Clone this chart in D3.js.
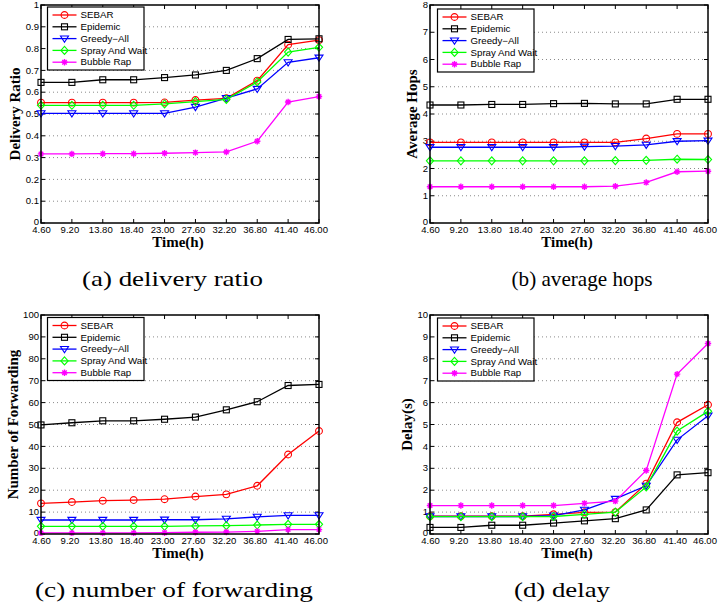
<!DOCTYPE html>
<html>
<head>
<meta charset="utf-8">
<script src="https://cdn.jsdelivr.net/npm/d3@7"></script>
<style>
  html, body { margin: 0; padding: 0; background: #fff; }
  svg { display: block; }
</style>
</head>
<body>
<svg id="fig" width="718" height="608"></svg>
<script>
// Simulation time points (hours) and their tick labels
const times = [4.6, 9.2, 13.8, 18.4, 23.0, 27.6, 32.2, 36.8, 41.4, 46.0];
const timeLabels = ["4.60", "9.20", "13.80", "18.40", "23.00", "27.60", "32.20", "36.80", "41.40", "46.00"];

// Routing protocols compared
const protocols = ["SEBAR", "Epidemic", "Greedy\u2212All", "Spray And Wait", "Bubble Rap"];
const protocolColors = ["#ff0000", "#000000", "#0000ff", "#00ff00", "#ff00ff"];
const protocolMarkers = ["circle", "square", "triangleDown", "diamond", "asterisk"];

// (a) delivery ratio
const deliverySEBAR     = [0.552, 0.552, 0.552, 0.552, 0.553, 0.564, 0.572, 0.653, 0.818, 0.839];
const deliveryEpidemic  = [0.645, 0.645, 0.657, 0.657, 0.667, 0.679, 0.700, 0.754, 0.842, 0.845];
const deliveryGreedy    = [0.503, 0.503, 0.503, 0.503, 0.503, 0.532, 0.573, 0.615, 0.737, 0.758];
const deliverySpray     = [0.540, 0.540, 0.540, 0.540, 0.546, 0.557, 0.567, 0.647, 0.784, 0.806];
const deliveryBubble    = [0.317, 0.317, 0.318, 0.318, 0.320, 0.323, 0.326, 0.375, 0.555, 0.580];
const deliveryTicks = [0, 0.1, 0.2, 0.3, 0.4, 0.5, 0.6, 0.7, 0.8, 0.9, 1];

// (b) average hops
const hopsSEBAR    = [2.96, 2.96, 2.96, 2.96, 2.96, 2.96, 2.96, 3.10, 3.27, 3.27];
const hopsEpidemic = [4.33, 4.33, 4.35, 4.35, 4.38, 4.39, 4.37, 4.37, 4.54, 4.54];
const hopsGreedy   = [2.78, 2.78, 2.78, 2.78, 2.78, 2.80, 2.82, 2.87, 3.00, 3.02];
const hopsSpray    = [2.28, 2.28, 2.28, 2.28, 2.28, 2.28, 2.29, 2.30, 2.34, 2.33];
const hopsBubble   = [1.33, 1.33, 1.33, 1.33, 1.33, 1.33, 1.35, 1.49, 1.88, 1.90];
const hopsTicks = [0, 1, 2, 3, 4, 5, 6, 7, 8];

// (c) number of forwarding
const forwardSEBAR    = [14.0, 14.6, 15.2, 15.5, 15.9, 17.1, 18.1, 22.0, 36.3, 47.0];
const forwardEpidemic = [49.8, 50.8, 51.7, 51.7, 52.4, 53.4, 56.7, 60.4, 67.8, 68.3];
const forwardGreedy   = [6.4, 6.4, 6.4, 6.4, 6.5, 6.5, 6.9, 7.8, 8.5, 8.5];
const forwardSpray    = [3.5, 3.5, 3.5, 3.5, 3.5, 3.7, 3.8, 4.1, 4.4, 4.4];
const forwardBubble   = [0.5, 0.5, 0.5, 0.5, 0.6, 0.8, 0.9, 1.2, 2.0, 2.0];
const forwardTicks = [0, 10, 20, 30, 40, 50, 60, 70, 80, 90, 100];

// (d) delay
const delaySEBAR    = [0.81, 0.81, 0.81, 0.81, 0.90, 0.99, 1.00, 2.30, 5.10, 5.90];
const delayEpidemic = [0.30, 0.30, 0.40, 0.40, 0.50, 0.60, 0.70, 1.10, 2.70, 2.80];
const delayGreedy   = [0.80, 0.80, 0.80, 0.80, 0.84, 1.10, 1.60, 2.20, 4.30, 5.40];
const delaySpray    = [0.79, 0.79, 0.79, 0.79, 0.80, 0.90, 1.00, 2.15, 4.70, 5.60];
const delayBubble   = [1.30, 1.30, 1.30, 1.30, 1.30, 1.40, 1.50, 2.90, 7.30, 8.70];
const delayTicks = [0, 1, 2, 3, 4, 5, 6, 7, 8, 9, 10];

const panels = [
  { box: { x: 41, y: 5, w: 278, h: 218 }, series: [deliverySEBAR, deliveryEpidemic, deliveryGreedy, deliverySpray, deliveryBubble],
    ticks: deliveryTicks, fmt: d => (d === 0 || d === 1) ? String(d) : d.toFixed(1),
    ylabel: "Delivery Ratio", caption: "(a) delivery ratio", cap: { cx: 172.5, w: 181 }, legend: { x: 47.5, y: 7 } },
  { box: { x: 430, y: 5, w: 278, h: 218 }, series: [hopsSEBAR, hopsEpidemic, hopsGreedy, hopsSpray, hopsBubble],
    ticks: hopsTicks, fmt: d => String(d),
    ylabel: "Average Hops", caption: "(b) average hops", cap: { cx: 582, w: 141 }, legend: { x: 437.5, y: 9 } },
  { box: { x: 41, y: 315, w: 278, h: 219 }, series: [forwardSEBAR, forwardEpidemic, forwardGreedy, forwardSpray, forwardBubble],
    ticks: forwardTicks, fmt: d => String(d),
    ylabel: "Number of Forwarding", caption: "(c) number of forwarding", cap: { cx: 174, w: 278 }, legend: { x: 47.5, y: 317.5 } },
  { box: { x: 430, y: 315, w: 278, h: 219 }, series: [delaySEBAR, delayEpidemic, delayGreedy, delaySpray, delayBubble],
    ticks: delayTicks, fmt: d => String(d),
    ylabel: "Delay(s)", caption: "(d) delay", cap: { cx: 562, w: 96 }, legend: { x: 437.5, y: 318 } }
];

const svg = d3.select("#fig");
const tickFont = "'Liberation Sans', Arial, sans-serif";
const serifFont = "'Liberation Serif', 'Times New Roman', serif";
const stretch = 1.15; // horizontal widening applied to small sans labels

// Draw a marker of the given kind centred at (0,0)
function drawMarker(g, kind, color) {
  const sw = 1.1;
  if (kind === "circle") {
    g.append("circle").attr("r", 3.4).attr("fill", "none").attr("stroke", color).attr("stroke-width", sw);
  } else if (kind === "square") {
    g.append("rect").attr("x", -3).attr("y", -3).attr("width", 6).attr("height", 6)
      .attr("fill", "none").attr("stroke", color).attr("stroke-width", sw);
  } else if (kind === "triangleDown") {
    g.append("path").attr("d", "M-4,-2.6L4,-2.6L0,3.6Z").attr("fill", "none").attr("stroke", color).attr("stroke-width", sw);
  } else if (kind === "diamond") {
    g.append("path").attr("d", "M0,-4L3.6,0L0,4L-3.6,0Z").attr("fill", "none").attr("stroke", color).attr("stroke-width", sw);
  } else if (kind === "asterisk") {
    const r = 3.2, q = r * 0.7;
    g.append("path").attr("d", `M${-r},0L${r},0M0,${-r}L0,${r}M${-q},${-q}L${q},${q}M${-q},${q}L${q},${-q}`)
      .attr("fill", "none").attr("stroke", color).attr("stroke-width", 1.4);
  }
}

panels.forEach(p => {
  const { x, y, w, h } = p.box;
  const g = svg.append("g").attr("transform", `translate(${x},${y})`);
  const xs = d3.scaleLinear().domain([times[0], times[times.length - 1]]).range([0, w]);
  const ys = d3.scaleLinear().domain([p.ticks[0], p.ticks[p.ticks.length - 1]]).range([h, 0]);

  // background
  g.append("rect").attr("width", w).attr("height", h).attr("fill", "#fff");

  // dotted horizontal grid
  g.append("g").selectAll("line").data(p.ticks.slice(1, -1)).join("line")
    .attr("x1", 0).attr("x2", w).attr("y1", d => ys(d)).attr("y2", d => ys(d))
    .attr("stroke", "#8a8a8a").attr("stroke-width", 1).attr("stroke-dasharray", "1,3");

  // inner ticks on all four sides
  const tickLen = 4;
  const tg = g.append("g").attr("stroke", "#000").attr("stroke-width", 1);
  times.forEach(t => {
    tg.append("line").attr("x1", xs(t)).attr("x2", xs(t)).attr("y1", h).attr("y2", h - tickLen);
    tg.append("line").attr("x1", xs(t)).attr("x2", xs(t)).attr("y1", 0).attr("y2", tickLen);
  });
  p.ticks.forEach(v => {
    tg.append("line").attr("x1", 0).attr("x2", tickLen).attr("y1", ys(v)).attr("y2", ys(v));
    tg.append("line").attr("x1", w).attr("x2", w - tickLen).attr("y1", ys(v)).attr("y2", ys(v));
  });

  // axes via d3 for tick labels (tick lines hidden)
  const xAxis = d3.axisBottom(xs).tickValues(times).tickFormat((d, i) => timeLabels[i]).tickSize(0).tickPadding(4.5);
  const xg = g.append("g").attr("transform", `translate(0,${h})`).call(xAxis);
  xg.select(".domain").remove();
  xg.selectAll("text").attr("font-family", tickFont).attr("font-size", 8.3).attr("fill", "#000")
    .attr("x", (d, i) => i === 0 ? 0 : (i === times.length - 1 ? -3.5 : -2.5) / stretch)
    .attr("transform", `scale(${stretch},1)`);

  const yAxis = d3.axisLeft(ys).tickValues(p.ticks).tickFormat(p.fmt).tickSize(0).tickPadding(2);
  const yg = g.append("g").call(yAxis);
  yg.select(".domain").remove();
  const yTexts = yg.selectAll("text").attr("font-family", tickFont).attr("font-size", 8.3).attr("fill", "#000")
    .attr("x", -2 / stretch).attr("dy", (d, i) => i === 0 ? "0.2em" : "0.32em")
    .attr("transform", `scale(${stretch},1)`);

  // widest y tick label decides how far out the y title sits
  let maxTickW = 0;
  yTexts.each(function () { maxTickW = Math.max(maxTickW, this.getComputedTextLength()); });
  const ylabelX = -(2 + maxTickW * stretch + 5.5);

  // series lines and markers
  const line = d3.line().x((d, i) => xs(times[i])).y(d => ys(d));
  p.series.forEach((vals, si) => {
    const color = protocolColors[si];
    g.append("path").datum(vals).attr("d", line).attr("fill", "none")
      .attr("stroke", color).attr("stroke-width", 1.3);
    vals.forEach((v, i) => {
      const mg = g.append("g").attr("transform", `translate(${xs(times[i])},${ys(v)})`);
      drawMarker(mg, protocolMarkers[si], color);
    });
  });

  // frame
  g.append("rect").attr("width", w).attr("height", h).attr("fill", "none")
    .attr("stroke", "#000").attr("stroke-width", 1.5);

  // legend
  const lw = 96.5, lh = 63, lx = p.legend.x - x, ly = p.legend.y - y;
  const lg = g.append("g").attr("transform", `translate(${lx},${ly})`);
  lg.append("rect").attr("width", lw).attr("height", lh).attr("fill", "#fff")
    .attr("stroke", "#000").attr("stroke-width", 1.2);
  protocols.forEach((name, si) => {
    const cy = 8 + si * 11.8;
    lg.append("line").attr("x1", 5).attr("x2", 29).attr("y1", cy).attr("y2", cy)
      .attr("stroke", protocolColors[si]).attr("stroke-width", 1.3);
    const mg = lg.append("g").attr("transform", `translate(17,${cy})`);
    drawMarker(mg, protocolMarkers[si], protocolColors[si]);
    lg.append("text").attr("transform", `translate(33,${cy + 3.2}) scale(1.08,1)`).text(name)
      .attr("font-family", tickFont).attr("font-size", 9).attr("fill", "#000");
  });

  // axis titles
  g.append("text").attr("x", w / 2 - 2).attr("y", h + 24).attr("text-anchor", "middle")
    .attr("font-family", serifFont).attr("font-weight", "bold").attr("font-size", 15).text("Time(h)");
  g.append("text").attr("transform", `translate(${ylabelX},${h / 2}) rotate(-90)`).attr("text-anchor", "middle")
    .attr("font-family", serifFont).attr("font-weight", "bold").attr("font-size", 15).text(p.ylabel);

  // caption below the panel
  svg.append("text").attr("x", p.cap.cx - p.cap.w / 2).attr("y", y + h + 63)
    .attr("textLength", p.cap.w).attr("lengthAdjust", "spacingAndGlyphs")
    .attr("font-family", serifFont).attr("font-size", 22).text(p.caption);
});
</script>
</body>
</html>
